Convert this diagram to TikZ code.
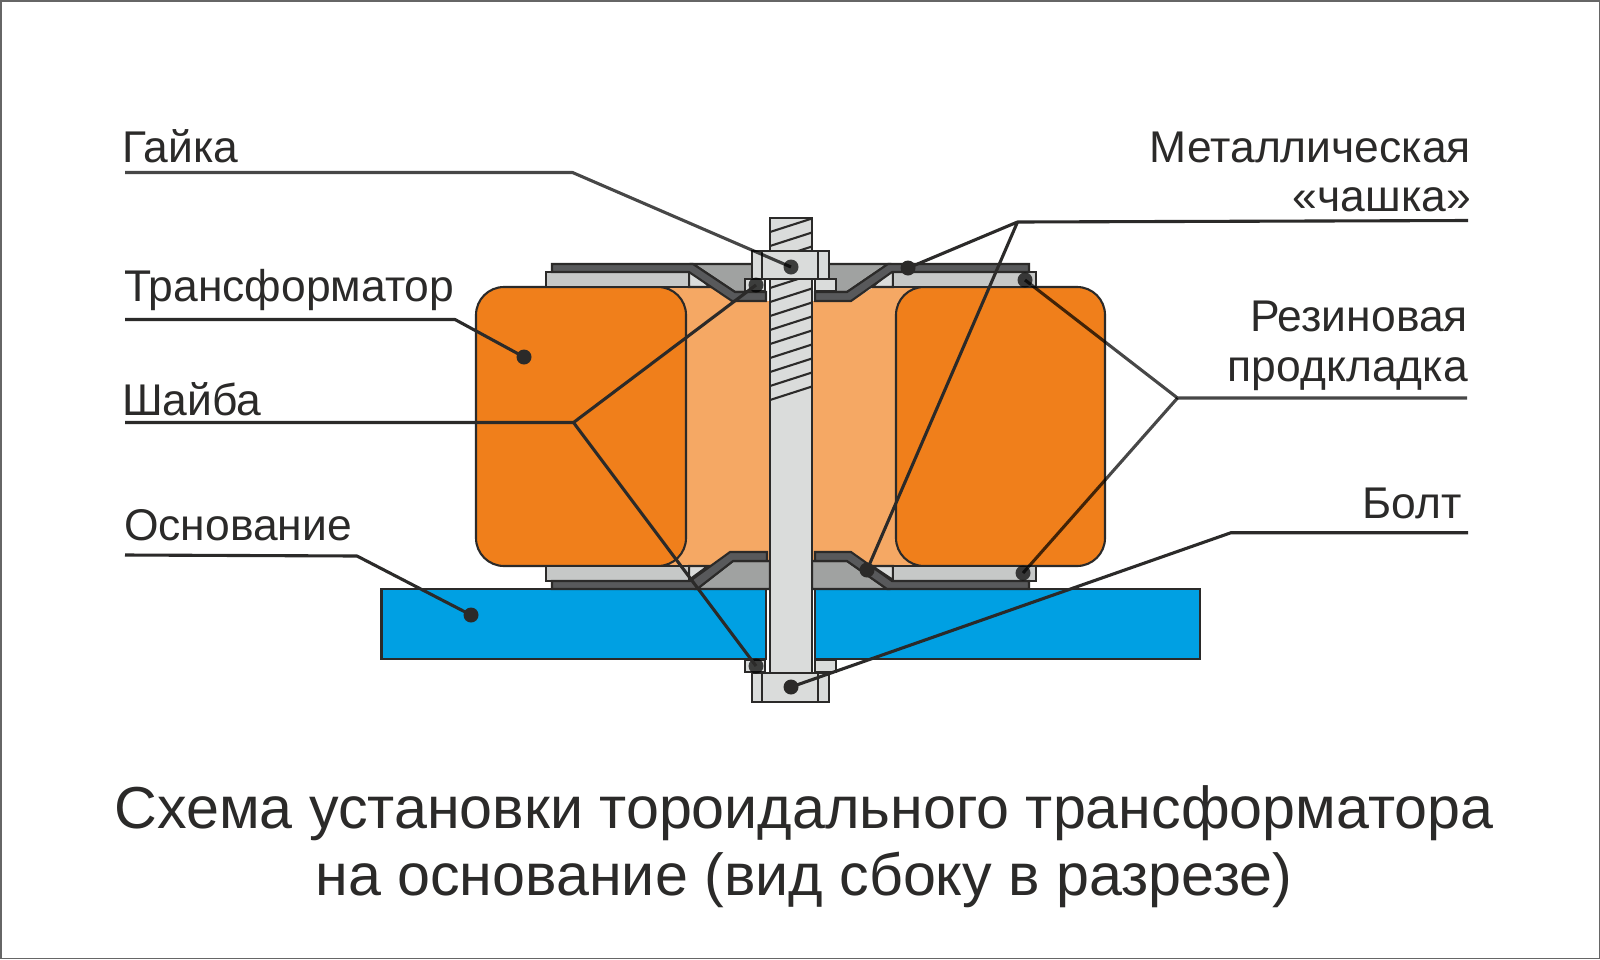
\documentclass[tikz,border=0pt]{standalone}
\usepackage{fontspec}
\setmainfont{Liberation Sans}
\usetikzlibrary{calc}
\definecolor{ln}{HTML}{2B2A29}
\definecolor{orange1}{HTML}{F07F1B}
\definecolor{orange2}{HTML}{F5A864}
\definecolor{cupc}{HTML}{58595B}
\definecolor{gr}{HTML}{A0A2A1}
\definecolor{pad}{HTML}{C6C8C7}
\definecolor{lite}{HTML}{DADCDB}
\definecolor{blue1}{HTML}{00A0E3}
\tikzset{
 part/.style={draw=ln,line width=2.1pt,line join=miter},
 lead/.style={draw=ln,line width=3.1pt,line join=round},
 leadg/.style={draw=black,draw opacity=.72,line width=3.1pt,line join=round},
 dotk/.style={circle,fill=ln,minimum size=15pt,inner sep=0pt,outer sep=0pt},
 dotg/.style={circle,fill=black,fill opacity=.72,minimum size=15pt,inner sep=0pt,outer sep=0pt},
 lab/.style={font=\fontsize{44.4}{44.4}\selectfont,text=ln,inner sep=0pt},
 ttl/.style={font=\fontsize{59.2}{59.2}\selectfont,text=ln,inner sep=0pt},
}
\begin{document}
\begin{tikzpicture}[x=1pt,y=-1pt]
\useasboundingbox (0,0) rectangle (1600,959);
\draw[draw=gray!80!black,line width=1.5pt,fill=white] (0.75,0.75) rectangle (1599.25,958.25);

% transformer centre
\fill[orange2] (660,287) -- (710,287) -- (732,301) -- (851,301) -- (874,287) -- (920,287) -- (920,566) -- (660,566) -- cycle;
\draw[part] (686,287) -- (706,287);
\draw[part] (874,287) -- (896,287);
\draw[part] (660,566) -- (920,566);
% windings
\draw[part,fill=orange1] (476,315) arc[start angle=180,end angle=270,radius=28] -- (658,287) arc[start angle=270,end angle=360,radius=28] -- (686,538) arc[start angle=0,end angle=90,radius=28] -- (504,566) arc[start angle=90,end angle=180,radius=28] -- cycle;
\draw[part,fill=orange1] (896,315) arc[start angle=180,end angle=270,radius=28] -- (1077,287) arc[start angle=270,end angle=360,radius=28] -- (1105,538) arc[start angle=0,end angle=90,radius=28] -- (924,566) arc[start angle=90,end angle=180,radius=28] -- cycle;

% base
\draw[part,fill=blue1] (381.5,589) rectangle (766,659);
\draw[part,fill=blue1] (815,589) rectangle (1200,659);

% top grey fill and pads
\draw[part,fill=lite] (689,272) -- (689,287) -- (710,287) -- (693,272) -- cycle;
\draw[part,fill=pad] (546,272) rectangle (689,287);
\draw[part,fill=lite] (893,272) -- (893,287) -- (872,287) -- (890,272) -- cycle;
\draw[part,fill=pad] (893,272) rectangle (1036,287);
\draw[part,fill=gr] (693,264) -- (760,264) -- (760,292) -- (735,292) -- cycle;
\draw[part,fill=gr] (821,264) -- (888,264) -- (847,292) -- (821,292) -- cycle;
% top cups
\draw[part,fill=cupc] (552,264) -- (693,264) -- (735,292) -- (766,292) -- (766,301) -- (732,301) -- (689,272) -- (552,272) -- cycle;
\draw[part,fill=cupc] (1029,264) -- (888,264) -- (847,292) -- (815,292) -- (815,301) -- (851,301) -- (892,272) -- (1029,272) -- cycle;

% bottom grey fill and pads
\draw[part,fill=lite] (689,566) -- (689,580) -- (708,566) -- cycle;
\draw[part,fill=pad] (546,566) rectangle (689,581);
\draw[part,fill=lite] (893,566) -- (893,580) -- (872,566) -- cycle;
\draw[part,fill=pad] (893,566) rectangle (1036,581);
\draw[part,fill=gr] (733,561) -- (770,561) -- (770,589) -- (697,589) -- cycle;
\draw[part,fill=gr] (847,561) -- (812,561) -- (812,589) -- (887,589) -- cycle;
% bottom cups
\draw[part,fill=cupc] (552,581) -- (690,581) -- (730,552) -- (767,552) -- (767,561) -- (733,561) -- (697,589) -- (552,589) -- cycle;
\draw[part,fill=cupc] (1029,581) -- (892,581) -- (851,552) -- (815,552) -- (815,561) -- (847,561) -- (887,589) -- (1029,589) -- cycle;

% bolt
\draw[part,fill=lite] (770,218) rectangle (812,673);
\foreach \k in {0,...,12}{
  \draw[draw=ln,line width=2.1pt] (770,232+14*\k) -- (812,218.5+14*\k);
}
% washers
\draw[part,fill=lite] (745,279) rectangle (765,291);
\draw[part,fill=lite] (815,279) rectangle (836,291);
\draw[part,fill=lite] (745,660) rectangle (765,672);
\draw[part,fill=lite] (815,660) rectangle (836,672);
% nut
\draw[part,fill=lite] (752,251) rectangle (829,279);
\draw[part] (762,251) -- (762,279);
\draw[part] (818,251) -- (818,279);
% bolt head
\draw[part,fill=lite] (752,673) rectangle (829,702);
\draw[part] (762,673) -- (762,702);
\draw[part] (818,673) -- (818,702);

% labels
\node[lab,anchor=base west] (l1) at (122,162) {Гайка};
\node[lab,anchor=base west] (l2) at (124,301) {Трансформатор};
\node[lab,anchor=base west] (l3) at (122,415) {Шайба};
\node[lab,anchor=base west] (l4) at (124,540) {Основание};
\node[lab,anchor=base east] (r1) at (1471,162) {Металлическая};
\node[lab,anchor=base east] (r1b) at (1471,211) {«чашка»};
\node[lab,anchor=base east] (r2) at (1468,331) {Резиновая};
\node[lab,anchor=base east] (r2b) at (1468,381) {продкладка};
\node[lab,anchor=base east] (r3) at (1462,518) {Болт};
\node[ttl,anchor=base] (t1) at (804,828) {Схема установки тороидального трансформатора};
\node[ttl,anchor=base] (t2) at (804,895) {на основание (вид сбоку в разрезе)};

% leader points
\node[dotg] (dNut) at (791,267) {};
\node[dotk] (dTr) at (524,357) {};
\node[dotg] (dW1) at (756,285) {};
\node[dotg] (dW2) at (756,666) {};
\node[dotk] (dBase) at (471,615) {};
\node[dotk] (dC1) at (908,268) {};
\node[dotk] (dC2) at (867,570) {};
\node[dotg] (dP1) at (1025,280) {};
\node[dotg] (dP2) at (1023,573) {};
\node[dotk] (dB) at (791,687) {};
\coordinate (a1) at (125,172.5); \coordinate (e1) at (572.5,172.5);
\coordinate (a2) at (125,319.5); \coordinate (e2) at (455,319.5);
\coordinate (a3) at (125,422.5); \coordinate (e3) at (573.5,422.5);
\coordinate (a4) at (125,555);   \coordinate (e4) at (357,556);
\coordinate (b1) at (1468,220.5);\coordinate (f1) at (1017.5,222);
\coordinate (b2) at (1467,398);  \coordinate (f2) at (1177.5,398);
\coordinate (b3) at (1468,532.7);\coordinate (f3) at (1231,532.7);
\draw[leadg] (a1) -- (e1) -- (dNut.center);
\draw[lead] (a2) -- (e2) -- (dTr.center);
\draw[lead] (a3) -- (e3) -- (dW1.center);
\draw[lead] (e3) -- (dW2.center);
\draw[lead] (a4) -- (e4) -- (dBase.center);
\draw[lead] (b1) -- (f1) -- (dC1.center);
\draw[lead] (f1) -- (dC2.center);
\draw[leadg] (b2) -- (f2) -- (dP1.center);
\draw[leadg] (f2) -- (dP2.center);
\draw[lead] (b3) -- (f3) -- (dB.center);
\end{tikzpicture}
\end{document}
